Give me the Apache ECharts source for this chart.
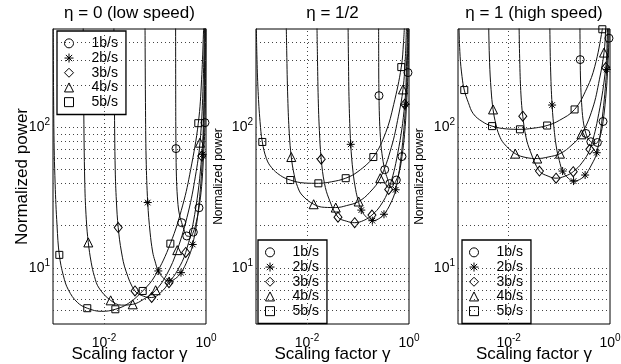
<!DOCTYPE html>
<html>
<head>
<meta charset="utf-8">
<script src="https://cdn.jsdelivr.net/npm/echarts@6/dist/echarts.min.js"></script>
<style>
  html, body { margin: 0; padding: 0; background: #fff; }
  #chart { width: 621px; height: 364px; }
</style>
</head>
<body>
<div id="chart"></div>
<script>
const rates = ['1b/s', '2b/s', '3b/s', '4b/s', '5b/s'];
const panelTitles = ['η = 0 (low speed)', 'η = 1/2', 'η = 1 (high speed)'];
const xTickPowers = [-2, 0];
const yTickPowers = [1, 2];
const yGridValues = [5, 6, 7, 8, 9, 10, 20, 30, 40, 50, 60, 70, 80, 90, 100, 200, 300, 400];
const xGridValues = [0.01];

// gamma of the markers, one list per rate (same in all panels)
const markerGamma = [
  [0.258, 0.334, 0.419, 0.564, 0.729, 0.955],
  [0.072, 0.116, 0.191, 0.323, 0.548, 0.861],
  [0.019, 0.0405, 0.0861, 0.188, 0.40, 0.824],
  [0.00492, 0.0135, 0.0366, 0.103, 0.273, 0.762],
  [0.00133, 0.0047, 0.0167, 0.0574, 0.2, 0.706]
];

// normalized power at the markers
const lowMarkers = [
  [70.6, 21, 16.9, 18, 26.8, 108],
  [29.2, 9.53, 8.09, 9.27, 14.7, 64.3],
  [19.4, 6.87, 6.17, 7.87, 12.9, 62.5],
  [15.2, 5.89, 5.52, 6.95, 13.4, 77.8],
  [12.4, 5.18, 5.09, 6.87, 14.9, 107]
];
const midMarkers = [
  [168, 50, 39.8, 42.2, 62, 245],
  [75.7, 25.8, 21.7, 24.1, 36, 146],
  [59.3, 23, 21, 23.8, 36.2, 146],
  [61.5, 28.4, 26.9, 29.7, 43.5, 186],
  [78.7, 42.2, 40, 43.5, 61.5, 268]
];
const highMarkers = [
  [303, 90.5, 79, 78, 110, 430],
  [144, 48.9, 41.5, 45.8, 66, 258],
  [120, 48.9, 43.5, 48.4, 69.8, 266],
  [134, 65, 60, 65, 89.2, 340],
  [184, 102, 96.8, 103, 134, 498]
];

// curves [gamma, power]
const lowCurves = [
  [[0.2535, 600], [0.2545, 200], [0.2555, 110], [0.258, 70.6], [0.263, 45], [0.275, 32], [0.295, 25], [0.334, 21], [0.38, 18.2], [0.419, 16.9], [0.49, 16.8], [0.564, 18], [0.65, 21.5], [0.729, 26.8], [0.82, 38], [0.89, 60], [0.955, 108], [0.985, 250], [1.0, 600]],
  [[0.0637, 600], [0.065, 150], [0.067, 60], [0.072, 29.2], [0.08, 18], [0.09, 13], [0.1, 11.2], [0.116, 9.53], [0.15, 8.4], [0.191, 8.09], [0.25, 8.4], [0.323, 9.27], [0.43, 11.3], [0.548, 14.7], [0.7, 25], [0.861, 64.3], [0.93, 150], [0.975, 600]],
  [[0.0156, 600], [0.016, 150], [0.0166, 50], [0.0175, 30], [0.019, 19.4], [0.022, 13], [0.027, 9.5], [0.0405, 6.87], [0.06, 6.3], [0.0861, 6.17], [0.13, 6.7], [0.188, 7.87], [0.28, 9.7], [0.40, 12.9], [0.6, 24], [0.824, 62.5], [0.91, 150], [0.96, 600]],
  [[0.0039, 600], [0.004, 150], [0.0042, 40], [0.0045, 22], [0.00492, 15.2], [0.0056, 11], [0.0065, 8.7], [0.008, 7.2], [0.0135, 5.89], [0.022, 5.45], [0.0366, 5.52], [0.06, 6.0], [0.103, 6.95], [0.17, 9], [0.273, 13.4], [0.45, 25], [0.62, 45], [0.762, 77.8], [0.87, 180], [0.94, 600]],
  [[0.00101, 600], [0.00104, 100], [0.0011, 40], [0.0012, 20], [0.00133, 12.4], [0.0016, 8.8], [0.002, 7], [0.003, 5.7], [0.0047, 5.18], [0.009, 4.92], [0.0167, 5.09], [0.03, 5.6], [0.0574, 6.87], [0.1, 8.8], [0.2, 14.9], [0.35, 28], [0.5, 50], [0.706, 107], [0.82, 220], [0.91, 600]]
];
const midCurves = [
  [[0.2535, 600], [0.2545, 320], [0.2555, 220], [0.258, 168], [0.263, 120], [0.275, 85], [0.295, 65], [0.334, 50], [0.38, 43], [0.419, 39.8], [0.49, 39.5], [0.564, 42.2], [0.65, 49], [0.729, 62], [0.82, 90], [0.89, 140], [0.955, 245], [0.985, 400], [1.0, 600]],
  [[0.0637, 600], [0.065, 300], [0.067, 150], [0.072, 75.7], [0.08, 48], [0.09, 36], [0.1, 30.5], [0.116, 25.8], [0.15, 22.8], [0.191, 21.7], [0.25, 22.3], [0.323, 24.1], [0.43, 28.5], [0.548, 36], [0.7, 62], [0.861, 146], [0.93, 300], [0.97, 600]],
  [[0.0156, 600], [0.016, 330], [0.0166, 160], [0.0175, 95], [0.019, 59.3], [0.022, 40], [0.027, 31], [0.0405, 23], [0.06, 21.5], [0.0861, 21], [0.13, 21.8], [0.188, 23.8], [0.28, 28], [0.40, 36.2], [0.6, 65], [0.824, 146], [0.9, 300], [0.95, 600]],
  [[0.0039, 600], [0.004, 350], [0.0042, 160], [0.0045, 90], [0.00492, 61.5], [0.0056, 46], [0.0065, 38], [0.008, 33], [0.0135, 28.4], [0.022, 27], [0.0366, 26.9], [0.06, 27.8], [0.103, 29.7], [0.17, 34.5], [0.273, 43.5], [0.45, 72], [0.62, 120], [0.762, 186], [0.85, 320], [0.9, 600]],
  [[0.00101, 600], [0.00104, 330], [0.0011, 180], [0.0012, 110], [0.00133, 78.7], [0.0016, 60], [0.002, 52], [0.003, 45.5], [0.0047, 42.2], [0.009, 40.2], [0.0167, 40], [0.03, 41], [0.0574, 43.5], [0.1, 48.5], [0.2, 61.5], [0.35, 92], [0.5, 145], [0.706, 268], [0.78, 400], [0.83, 600]]
];
const highCurves = [
  [[0.2535, 900], [0.2545, 600], [0.256, 420], [0.258, 303], [0.263, 210], [0.275, 150], [0.295, 112], [0.334, 90.5], [0.38, 82], [0.419, 79], [0.49, 76.5], [0.564, 78], [0.65, 88], [0.729, 110], [0.82, 160], [0.89, 240], [0.955, 430], [0.975, 600], [1.0, 900]],
  [[0.0637, 900], [0.065, 500], [0.067, 270], [0.072, 144], [0.08, 92], [0.09, 68], [0.1, 58], [0.116, 48.9], [0.15, 43.5], [0.191, 41.5], [0.25, 42.5], [0.323, 45.8], [0.43, 54], [0.548, 66], [0.7, 115], [0.861, 258], [0.92, 450], [0.96, 900]],
  [[0.0156, 900], [0.016, 550], [0.0166, 280], [0.0175, 170], [0.019, 120], [0.022, 85], [0.027, 67], [0.0405, 48.9], [0.06, 45], [0.0861, 43.5], [0.13, 45], [0.188, 48.4], [0.28, 56], [0.40, 69.8], [0.6, 125], [0.824, 266], [0.88, 420], [0.93, 900]],
  [[0.0039, 900], [0.004, 600], [0.0042, 290], [0.0045, 185], [0.00492, 134], [0.0056, 105], [0.0065, 88], [0.008, 77], [0.0135, 65], [0.022, 61], [0.0366, 60], [0.06, 61.5], [0.103, 65], [0.17, 74], [0.273, 89.2], [0.45, 135], [0.62, 220], [0.762, 340], [0.82, 500], [0.87, 900]],
  [[0.00101, 900], [0.00104, 550], [0.0011, 320], [0.0012, 230], [0.00133, 184], [0.0016, 150], [0.002, 125], [0.003, 110], [0.0047, 102], [0.009, 97.5], [0.0167, 96.8], [0.03, 98.5], [0.0574, 103], [0.1, 112], [0.2, 134], [0.35, 190], [0.5, 270], [0.706, 498], [0.74, 600], [0.8, 900]]
];

const panelCurves = [lowCurves, midCurves, highCurves];
const panelMarkers = [lowMarkers, midMarkers, highMarkers];

const font = 'Liberation Sans, Arial, Helvetica, sans-serif';
const gridLeft = [53, 256, 458];
const gridWidth = [153, 153, 152];
const legendPos = [[57, 31], [258, 240], [462, 240]];
const yNameSize = [17, 12, 12];
const yNameGap = [22, 31, 32];

const asterisk = 'path://M5,0L5,10M0,5L10,5M1.5,1.5L8.5,8.5M8.5,1.5L1.5,8.5';
const rateSymbols = ['circle', asterisk, 'diamond', 'triangle', 'rect'];
const rateSizes = [8, 8, [8, 10], 9, 7];

const supRich = { s: { fontSize: 10, padding: [0, 0, 10, 0], fontFamily: font, color: '#000' } };
function powerLabel(powers) {
  return v => {
    const e = Math.log10(v);
    const r = Math.round(e);
    if (Math.abs(e - r) > 1e-6 || powers.indexOf(r) < 0) return '';
    return '10{s|' + r + '}';
  };
}

const chart = echarts.init(document.getElementById('chart'));

const grids = [], xAxes = [], yAxes = [], titles = [], legends = [], series = [];

for (let p = 0; p < 3; p++) {
  grids.push({
    left: gridLeft[p], top: 29, width: gridWidth[p], height: 295,
    show: true, borderColor: '#000', borderWidth: 1, backgroundColor: '#fff',
    outerBoundsMode: 'none', containLabel: false
  });
  xAxes.push({
    gridIndex: p, type: 'log', logBase: 10, min: 0.001, max: 1,
    axisLine: { show: false }, axisTick: { show: false }, splitLine: { show: false },
    axisLabel: { formatter: powerLabel(xTickPowers), rich: supRich, fontSize: 14, color: '#000', fontFamily: font, margin: 9, showMinLabel: true, showMaxLabel: true, hideOverlap: false },
    name: 'Scaling factor γ', nameLocation: 'middle', nameGap: 22, nameMoveOverlap: false,
    nameTextStyle: { fontSize: 17, color: '#000', fontFamily: font }
  });
  yAxes.push({
    gridIndex: p, type: 'log', logBase: 10, min: 4, max: 500,
    axisLine: { show: false }, axisTick: { show: false }, splitLine: { show: false },
    axisLabel: { formatter: powerLabel(yTickPowers), rich: supRich, fontSize: 14, color: '#000', fontFamily: font, margin: 3, hideOverlap: false },
    name: 'Normalized power', nameLocation: 'middle', nameGap: yNameGap[p], nameMoveOverlap: false,
    nameTextStyle: { fontSize: yNameSize[p], color: '#000', fontFamily: font }
  });
  titles.push({
    text: panelTitles[p], left: gridLeft[p] + gridWidth[p] / 2, top: 5, textAlign: 'center', padding: 0,
    textStyle: { fontSize: 17, fontWeight: 'normal', color: '#000', fontFamily: font }
  });
  legends.push({
    data: rates, orient: 'vertical', left: legendPos[p][0], top: legendPos[p][1],
    padding: [5, 8, 5, 7], itemGap: 0, itemWidth: 9, itemHeight: 9,
    backgroundColor: '#fff', borderColor: '#000', borderWidth: 1.3, selectedMode: false,
    textStyle: { fontSize: 14, color: '#000', fontFamily: font, lineHeight: 14.7, padding: [0, 0, 0, 13] },
    itemStyle: { color: 'rgba(0,0,0,0)', borderColor: '#000', borderWidth: 1 }
  });

  // dotted grid
  series.push({
    type: 'line', xAxisIndex: p, yAxisIndex: p, data: [], silent: true, z: 1,
    markLine: {
      silent: true, symbol: ['none', 'none'], animation: false,
      label: { show: false },
      lineStyle: { type: [1, 3], color: '#444', width: 1 },
      data: yGridValues.map(v => ({ yAxis: v })).concat(xGridValues.map(v => ({ xAxis: v })))
    }
  });

  for (let r = 0; r < rates.length; r++) {
    series.push({
      name: 'curve ' + rates[r], type: 'line', xAxisIndex: p, yAxisIndex: p,
      data: panelCurves[p][r], showSymbol: false, smooth: 0.4,
      lineStyle: { color: '#111', width: 1 }, z: 3, silent: true
    });
    series.push({
      name: rates[r], type: 'scatter', xAxisIndex: p, yAxisIndex: p,
      data: markerGamma[r].map((g, i) => [g, panelMarkers[p][r][i]]),
      symbol: rateSymbols[r], symbolSize: rateSizes[r],
      itemStyle: { color: 'rgba(0,0,0,0)', borderColor: '#000', borderWidth: 1, opacity: 1 },
      z: 4
    });
  }
}

chart.setOption({
  animation: false,
  backgroundColor: '#fff',
  title: titles,
  legend: legends,
  grid: grids,
  xAxis: xAxes,
  yAxis: yAxes,
  series: series
});
</script>
</body>
</html>
